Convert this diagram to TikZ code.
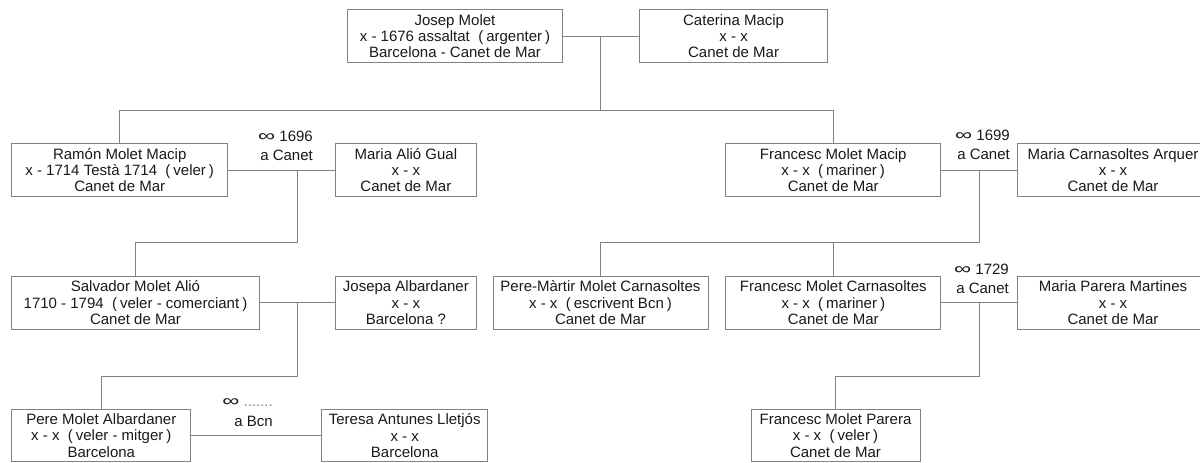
\documentclass[tikz,border=0pt]{standalone}
\usepackage{fontspec}
\usepackage{graphicx}
\setmainfont{Liberation Sans}
\definecolor{lg}{RGB}{130,130,130}
\definecolor{tx}{RGB}{25,25,25}
\newcommand{\paren}[1]{~~(\hspace{3pt}#1\hspace{3pt})}
\newcommand{\wed}{\scalebox{1.6}[1.1]{∞}}
\tikzset{
  person/.style={draw=lg, line width=1pt, align=center, inner sep=0pt,
    minimum height=53.4pt, text=tx, font=\fontsize{15}{16.3}\selectfont},
  link/.style={draw=lg, line width=1pt},
  wedlabel/.style={align=right, anchor=east, inner sep=0pt, text=tx,
    font=\fontsize{15}{19.5}\selectfont}
}
\begin{document}
\begin{tikzpicture}[x=1pt,y=1pt]
\useasboundingbox (0,0) rectangle (1200,-463);
\clip (0,0) rectangle (1200,-463);

% row 1
\node[person, minimum width=214.6pt] (josep) at (455,-36) {Josep Molet\\x - 1676 assaltat\paren{argenter}\\Barcelona - Canet de Mar};
\node[person, minimum width=188.7pt] (caterina) at (733.6,-36) {Caterina Macip\\x - x\\Canet de Mar};

% row 2
\node[person, minimum width=216pt] (ramon) at (119.7,-170) {Ramón Molet Macip\\x - 1714 Testà 1714\paren{veler}\\Canet de Mar};
\node[person, minimum width=140.3pt] (alio) at (405.9,-170) {Maria Alió Gual\\x - x\\Canet de Mar};
\node[person, minimum width=215pt] (francesc) at (833.2,-170) {Francesc Molet Macip\\x - x\paren{mariner}\\Canet de Mar};
\node[person, minimum width=191pt] (mcarn) at (1113,-170) {Maria Carnasoltes Arquer\\x - x\\Canet de Mar};

% row 3
\node[person, minimum width=247.6pt, minimum height=53pt] (salvador) at (135.5,-302.8) {Salvador Molet Alió\\1710 - 1794\paren{veler - comerciant}\\Canet de Mar};
\node[person, minimum width=140.3pt, minimum height=53pt] (josepa) at (405.9,-302.8) {Josepa Albardaner\\x - x\\Barcelona ?};
\node[person, minimum width=215pt, minimum height=53pt] (peremartir) at (600.5,-302.8) {Pere-Màrtir Molet Carnasoltes\\x - x\paren{escrivent Bcn}\\Canet de Mar};
\node[person, minimum width=214.7pt, minimum height=53pt] (fmc) at (833.3,-302.8) {Francesc Molet Carnasoltes\\x - x\paren{mariner}\\Canet de Mar};
\node[person, minimum width=191pt, minimum height=53pt] (mparera) at (1113,-302.8) {Maria Parera Martines\\x - x\\Canet de Mar};

% row 4
\node[person, minimum width=179.3pt, minimum height=52pt] (pere) at (101.3,-435.6) {Pere Molet Albardaner\\x - x\paren{veler - mitger}\\Barcelona};
\node[person, minimum width=166pt, minimum height=52pt] (teresa) at (404.7,-435.6) {Teresa Antunes Lletjós\\x - x\\Barcelona};
\node[person, minimum width=169pt, minimum height=52pt] (fmp) at (835.5,-435.6) {Francesc Molet Parera\\x - x\paren{veler}\\Canet de Mar};

% marriage labels
\node[wedlabel] (w1) at (313,-146) {\wed\ 1696\\a Canet};
\node[wedlabel] (w2) at (1010,-145) {\wed\ 1699\\a Canet};
\node[wedlabel] (w3) at (1009,-278.7) {\wed\ 1729\\a Canet};
\node[wedlabel] (w4) at (273,-412.5) {\wed\ {\color{lg}.......}\\a Bcn};

% junction points
\coordinate (m0) at (600.7,-36);
\coordinate (b0) at (600.7,-110);
\coordinate (m1) at (297.7,-170);
\coordinate (b1) at (297.7,-242);
\coordinate (m2) at (979.3,-170);
\coordinate (b2) at (979.3,-242.7);
\coordinate (m3) at (297.7,-302.8);
\coordinate (b3) at (297.7,-376);
\coordinate (m4) at (979.3,-302.8);
\coordinate (b4) at (979.3,-376);

% marriages
\draw[link] (josep) -- (caterina);
\draw[link] (ramon) -- (alio);
\draw[link] (francesc) -- (mcarn);
\draw[link] (salvador) -- (josepa);
\draw[link] (fmc) -- (mparera);
\draw[link] (pere) -- (teresa);

% descent
\draw[link] (m0) -- (b0);
\draw[link] (b0) -| (ramon.north);
\draw[link] (b0) -| (francesc.north);
\draw[link] (m1) -- (b1) -| (salvador.north);
\draw[link] (m2) -- (b2) -| (fmc.north);
\draw[link] (b2) -| (peremartir.north);
\draw[link] (m3) -- (b3) -| (pere.north);
\draw[link] (m4) -- (b4) -| (fmp.north);
\end{tikzpicture}
\end{document}
